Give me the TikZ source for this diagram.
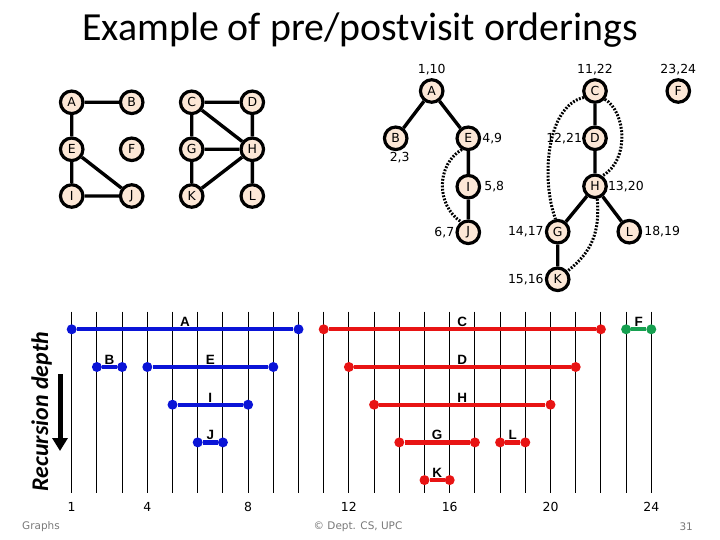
\documentclass[tikz,border=0pt]{standalone}
\usepackage{fontspec}
\usepackage{tikz}
\usetikzlibrary{arrows.meta,positioning}
\newfontfamily\titlefont{Carlito}
\newfontfamily\labelfont{DejaVu Sans}
\newfontfamily\boldfont{Liberation Sans}
\definecolor{peach}{RGB}{252,231,214}
\definecolor{treeblue}{RGB}{10,20,215}
\definecolor{treered}{RGB}{232,20,20}
\definecolor{treegreen}{RGB}{22,160,80}
\definecolor{footgray}{RGB}{120,120,120}
\tikzset{
  vtx/.style={circle, draw, line width=3.2bp, fill=peach, minimum size=22.5bp, inner sep=0pt, font=\labelfont\fontsize{12.5}{12}\selectfont},
  edge/.style={line width=3.4bp},
  back/.style={line width=3bp, dash pattern=on 1.8bp off 1.5bp},
  tag/.style={inner sep=0pt, font=\labelfont\fontsize{12.5}{13}\selectfont},
  tick/.style={line width=0.9bp},
  dot/.style={circle, fill=#1, minimum size=10bp, inner sep=0pt},
  span/.style={line width=4.2bp, #1},
  spanlbl/.style={anchor=south, inner sep=0pt, font=\boldfont\bfseries\fontsize{13.5}{14}\selectfont},
  foot/.style={text=footgray, inner sep=0pt, font=\labelfont\fontsize{10.5}{11}\selectfont}
}

\begin{document}
\begin{tikzpicture}[x=1bp, y=-1bp]
    \useasboundingbox (0,0) rectangle (720,540);
    \node[font=\titlefont\fontsize{40}{44}\selectfont, anchor=base] (title) at (360,41) {Example of pre/postvisit orderings};

    % the graph
    \node[vtx] (gA) at (71.7,102.3) {A};
    \node[vtx] (gB) at (131.7,102.3) {B};
    \node[vtx] (gC) at (191.7,102.3) {C};
    \node[vtx] (gD) at (252.3,102.3) {D};
    \node[vtx] (gE) at (71.7,149.3) {E};
    \node[vtx] (gF) at (131.7,149.3) {F};
    \node[vtx] (gG) at (191.7,149.3) {G};
    \node[vtx] (gH) at (252.3,149.3) {H};
    \node[vtx] (gI) at (71.7,196) {I};
    \node[vtx] (gJ) at (131.7,196) {J};
    \node[vtx] (gK) at (191.7,196) {K};
    \node[vtx] (gL) at (252.3,196) {L};
    \draw[edge] (gA) -- (gB) (gA) -- (gE) (gE) -- (gI) (gE) -- (gJ) (gI) -- (gJ);
    \draw[edge] (gC) -- (gD) (gC) -- (gG) (gC) -- (gH) (gD) -- (gH) (gG) -- (gH) (gG) -- (gK) (gK) -- (gH) (gH) -- (gL);

    % dfs forest
    \node[vtx] (tA) at (431.7,91) {A};
    \node[vtx] (tB) at (395.7,138.3) {B};
    \node[vtx] (tE) at (468.3,138.3) {E};
    \node[vtx] (tI) at (468.3,186.7) {I};
    \node[vtx] (tJ) at (468.3,232.3) {J};
    \node[vtx] (tC) at (595,91) {C};
    \node[vtx] (tF) at (678.3,91) {F};
    \node[vtx] (tD) at (595,138.3) {D};
    \node[vtx] (tH) at (595,186.3) {H};
    \node[vtx] (tG) at (557.7,231.7) {G};
    \node[vtx] (tL) at (629.3,231.7) {L};
    \node[vtx] (tK) at (557.7,279.3) {K};
    \draw[edge] (tA) -- (tB) (tA) -- (tE) (tE) -- (tI) (tI) -- (tJ);
    \draw[edge] (tC) -- (tD) (tD) -- (tH) (tH) -- (tG) (tG) -- (tK) (tH) -- (tL);
    \draw[back] (tE.240) .. controls (436,165) and (436,205) .. (tJ.125);
    \draw[back] (tC.210) .. controls (546,106) and (541,180) .. (tG.100);
    \draw[back] (tC.-40) .. controls (626,112) and (630,160) .. (tH.55);
    \draw[back] (tH.-80) .. controls (600,232) and (592,252) .. (tK.40);
    \node[tag, above=3bp of tA] {1,10};
    \node[tag, below=1bp of tB, xshift=4bp] {2,3};
    \node[tag, right=1bp of tE] {4,9};
    \node[tag, right=3bp of tI] {5,8};
    \node[tag, left=1bp of tJ] {6,7};
    \node[tag, above=3bp of tC] {11,22};
    \node[tag, above=3bp of tF] {23,24};
    \node[tag, left=0bp of tD] {12,21};
    \node[tag, right=0bp of tH] {13,20};
    \node[tag, left=1bp of tG] {14,17};
    \node[tag, right=2bp of tL] {18,19};
    \node[tag, left=1bp of tK] {15,16};

    % pre/post intervals
    \foreach \t in {1,...,24}
        \draw[tick] ({46.5+25.2*\t},311.7) -- ({46.5+25.2*\t},492.7);
    \foreach \t in {1,4,8,12,16,20,24}
        \node[font=\labelfont\fontsize{12.5}{13}\selectfont] at ({46.5+25.2*\t},506.7) {\t};
    \foreach \v/\s/\e/\l/\c in {A/1/10/0/treeblue, B/2/3/1/treeblue, E/4/9/1/treeblue, I/5/8/2/treeblue, J/6/7/3/treeblue, C/11/22/0/treered, D/12/21/1/treered, H/13/20/2/treered, G/14/17/3/treered, L/18/19/3/treered, K/15/16/4/treered, F/23/24/0/treegreen}{
        \node[dot=\c] (\v pre) at ({46.5+25.2*\s},{329.3+37.7*\l}) {};
        \node[dot=\c] (\v post) at ({46.5+25.2*\e},{329.3+37.7*\l}) {};
        \draw[span=\c] (\v pre) -- (\v post);
        \node[spanlbl] at ({46.5+12.6*(\s+\e)},{326.8+37.7*\l}) {\v};
    }
    \node[rotate=90, font=\titlefont\bfseries\itshape\fontsize{24}{26}\selectfont] (depth) at (41.7,411.7) {Recursion depth};
    \coordinate (arrtop) at (60,374);
    \coordinate (arrbot) at (60,451);
    \draw[line width=5bp, -{Triangle[width=15bp,length=13bp]}] (arrtop) -- (arrbot);

    % footer
    \node[foot, anchor=west] (fgraphs) at (22,527) {Graphs};
    \node[foot] (fdept) at (358,527) {© Dept. CS, UPC};
    \node[foot, anchor=east] (fpage) at (693,527) {31};
\end{tikzpicture}
\end{document}
